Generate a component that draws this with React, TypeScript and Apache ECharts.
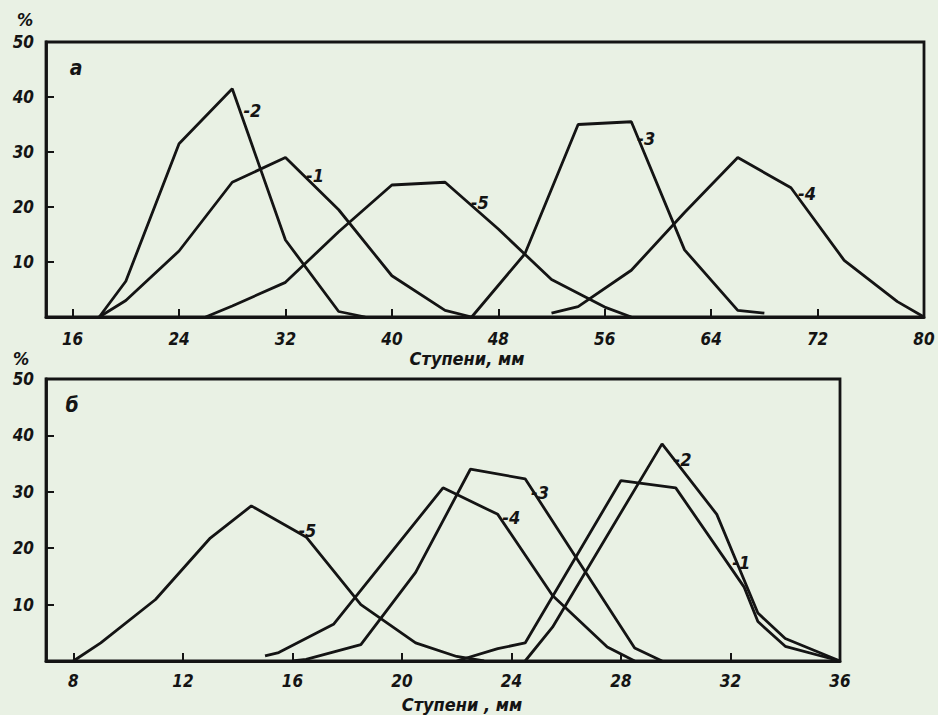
import React, { useEffect, useRef } from 'react';
import * as echarts from 'echarts';

// ---- axis ticks ----
const topTicksX = [16, 24, 32, 40, 48, 56, 64, 72, 80];
const botTicksX = [8, 12, 16, 20, 24, 28, 32, 36];

// ---- panel a (top) ----
const a1X = [18, 20, 24, 28, 32, 36, 40, 44, 46];
const a1Y = [0, 3, 12, 24.5, 29, 19.5, 7.5, 1.2, 0];
const a2X = [18, 20, 24, 28, 32, 36, 38];
const a2Y = [0, 6.5, 31.5, 41.5, 14, 1, 0];
const a3X = [46, 50, 54, 58, 62, 66, 68];
const a3Y = [0, 11.5, 35, 35.5, 12.2, 1.2, 0.7];
const a4X = [52, 54, 58, 62, 66, 70, 74, 78, 80];
const a4Y = [0.7, 1.9, 8.5, 19, 29, 23.5, 10.3, 2.8, 0];
const a5X = [26, 28, 32, 36, 40, 44, 48, 52, 56, 58];
const a5Y = [0, 2, 6.3, 15.5, 24, 24.5, 16, 6.8, 1.8, 0];

// series number labels, panel a
const aLabelNames = ['1', '2', '3', '4', '5'];
const aLabelX = [33.5, 28.8, 58.4, 70.5, 45.9];
const aLabelY = [25.7, 37.5, 32.5, 22.5, 20.8];

// ---- panel б (bottom) ----
const b1X = [22, 23.5, 24.5, 28, 30, 32.5, 33, 34, 36];
const b1Y = [0, 2.2, 3.2, 32, 30.7, 13.1, 7, 2.6, 0];
const b2X = [24.5, 25.5, 29.5, 31.5, 33, 34, 36];
const b2Y = [0, 6, 38.5, 26, 8.5, 4, 0];
const b3X = [16, 16.5, 18.5, 20.5, 22.5, 24.5, 28.5, 29.5];
const b3Y = [0, 0.3, 2.9, 15.7, 34, 32.3, 2.3, 0];
const b4X = [15, 15.5, 17.5, 21.5, 23.5, 25.5, 27.5, 28.5];
const b4Y = [0.9, 1.5, 6.5, 30.7, 26, 11.6, 2.5, 0];
const b5X = [8, 9, 11, 13, 14.5, 16.5, 18.5, 20.5, 22, 23];
const b5Y = [0, 3.2, 10.9, 21.8, 27.5, 22, 10, 3.2, 0.8, 0];

const bLabelNames = ['1', '2', '3', '4', '5'];
const bLabelX = [32.05, 29.9, 24.7, 23.65, 16.2];
const bLabelY = [17.5, 35.7, 29.9, 25.5, 23.1];

const INK = '#141414';
const BG = '#e9f1e4';
const FONT = "'DejaVu Sans Condensed', 'DejaVu Sans', sans-serif";

const pairs = (xs: number[], ys: number[]) => xs.map((x, i) => [x, ys[i]]);

function makeSeries(
  xs: number[],
  ys: number[],
  idx: number,
  labelName: string,
  lx: number,
  ly: number
) {
  return {
    type: 'line',
    xAxisIndex: idx,
    yAxisIndex: idx,
    data: pairs(xs, ys),
    symbol: 'none',
    silent: true,
    lineStyle: { color: INK, width: 2.8 },
    markPoint: {
      symbol: 'circle',
      symbolSize: 1,
      silent: true,
      itemStyle: { color: 'rgba(0,0,0,0)' },
      label: {
        show: true,
        position: 'right',
        distance: 0,
        formatter: '-{b}',
        color: INK,
        fontFamily: FONT,
        fontStyle: 'italic',
        fontWeight: 'bold',
        fontSize: 18,
      },
      data: [{ name: labelName, coord: [lx, ly] }],
    },
  };
}

const labelStyle = {
  color: INK,
  fontFamily: FONT,
  fontStyle: 'italic',
  fontWeight: 'bold',
  fontSize: 17,
};

function xAxis(idx: number, min: number, max: number, ticks: number[], margin: number) {
  return {
    type: 'value',
    gridIndex: idx,
    min,
    max,
    axisLine: { show: true, lineStyle: { color: INK, width: 2.8 } },
    axisTick: {
      show: true,
      inside: true,
      length: 8,
      customValues: ticks,
      lineStyle: { color: INK, width: 2 },
    },
    axisLabel: { ...labelStyle, margin, customValues: ticks },
    splitLine: { show: false },
  };
}

function yAxis(idx: number) {
  return {
    type: 'value',
    gridIndex: idx,
    min: 0,
    max: 50,
    interval: 10,
    axisLine: { show: true, lineStyle: { color: INK, width: 2.8 } },
    axisTick: {
      show: true,
      inside: true,
      length: 8,
      lineStyle: { color: INK, width: 2 },
    },
    axisLabel: {
      ...labelStyle,
      margin: 12,
      formatter: (v: number) => (v === 0 ? '' : String(v)),
    },
    splitLine: { show: false },
  };
}

export default function App() {
  const ref = useRef<HTMLDivElement>(null);
  useEffect(() => {
    if (!ref.current) return;
    const chart = echarts.init(ref.current, null, { renderer: 'svg' });
    const aSets = [
      [a1X, a1Y],
      [a2X, a2Y],
      [a3X, a3Y],
      [a4X, a4Y],
      [a5X, a5Y],
    ];
    const bSets = [
      [b1X, b1Y],
      [b2X, b2Y],
      [b3X, b3Y],
      [b4X, b4Y],
      [b5X, b5Y],
    ];
    const series: any[] = [];
    aSets.forEach(([xs, ys], i) =>
      series.push(makeSeries(xs, ys, 0, aLabelNames[i], aLabelX[i], aLabelY[i]))
    );
    bSets.forEach(([xs, ys], i) =>
      series.push(makeSeries(xs, ys, 1, bLabelNames[i], bLabelX[i], bLabelY[i]))
    );

    const txt = (x: number, y: number, text: string, size: number) => ({
      type: 'text',
      x,
      y,
      style: {
        text,
        fill: INK,
        font: `italic bold ${size}px ${FONT}`,
        textAlign: 'center',
        textVerticalAlign: 'middle',
      },
    });

    chart.setOption({
      animation: false,
      backgroundColor: BG,
      grid: [
        {
          left: 46,
          top: 42,
          width: 878,
          height: 275,
          show: true,
          borderColor: INK,
          borderWidth: 2.8,
          backgroundColor: 'rgba(0,0,0,0)',
        },
        {
          left: 46,
          top: 379,
          width: 794,
          height: 282,
          show: true,
          borderColor: INK,
          borderWidth: 2.8,
          backgroundColor: 'rgba(0,0,0,0)',
        },
      ],
      xAxis: [
        xAxis(0, 14, 80, topTicksX, 13),
        xAxis(1, 7, 36, botTicksX, 11),
      ],
      yAxis: [yAxis(0), yAxis(1)],
      series,
      graphic: [
        txt(25, 19, '%', 18),
        txt(21, 358, '%', 18),
        txt(76, 68, 'а', 21),
        txt(72, 405, 'б', 21),
        txt(467, 358, 'Ступени, мм', 18),
        txt(462, 704, 'Ступени , мм', 18),
      ],
    });
    return () => chart.dispose();
  }, []);
  return (
    <div
      ref={ref}
      style={{ position: 'fixed', left: 0, top: 0, width: 938, height: 715 }}
    />
  );
}
